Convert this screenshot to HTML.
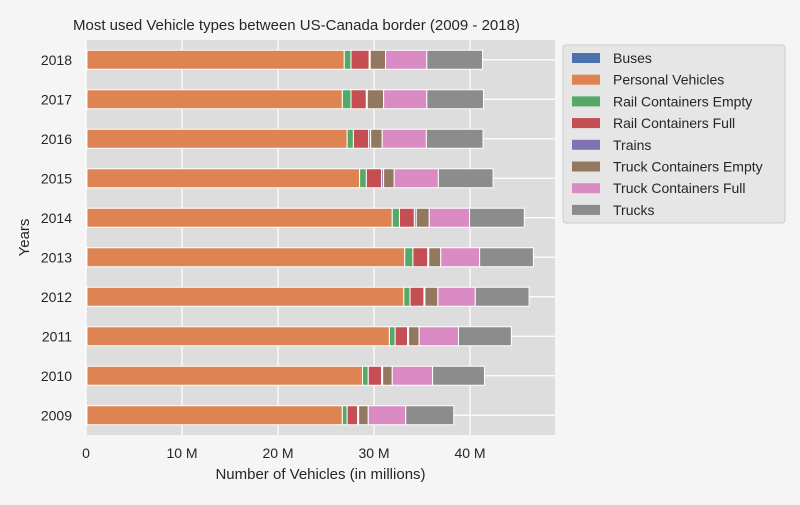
<!DOCTYPE html>
<html><head><meta charset="utf-8"><style>
body{margin:0;background:#f5f5f5;font-family:"Liberation Sans",sans-serif;}
svg text{font-family:"Liberation Sans",sans-serif;fill:#262626;}
</style></head><body>
<svg id="c" width="800" height="500">
<rect width="800" height="500" fill="#f5f5f5"/>
<text x="73" y="30" font-size="15">Most used Vehicle types between US-Canada border (2009 - 2018)</text>
<g id="plot"></g>
</svg>
<script>
const years=["2009","2010","2011","2012","2013","2014","2015","2016","2017","2018"];
const seriesNames=["Buses","Personal Vehicles","Rail Containers Empty","Rail Containers Full","Trains","Truck Containers Empty","Truck Containers Full","Trucks"];
const colors=["#4c72b0","#dd8452","#55a868","#c44e52","#8172b3","#937860","#da8bc3","#8c8c8c"];
const buses=[0.1,0.1,0.1,0.1,0.1,0.1,0.1,0.1,0.1,0.1];
const personal=[26.6,28.7,31.5,33.0,33.1,31.8,28.4,27.1,26.6,26.8];
const railEmpty=[0.5,0.6,0.6,0.65,0.85,0.75,0.7,0.65,0.9,0.7];
const railFull=[1.1,1.4,1.3,1.45,1.55,1.55,1.6,1.6,1.6,1.9];
const trains=[0.1,0.1,0.1,0.1,0.1,0.2,0.2,0.2,0.1,0.1];
const truckEmpty=[1.0,1.0,1.1,1.35,1.25,1.35,1.1,1.2,1.7,1.6];
const truckFull=[3.9,4.2,4.1,3.9,4.05,4.2,4.6,4.6,4.5,4.3];
const trucks=[5.0,5.4,5.5,5.6,5.6,5.7,5.7,5.9,5.9,5.8];
const xTicks=[0,10,20,30,40];
const xTickLabels=["0","10 M","20 M","30 M","40 M"];
const series=[buses,personal,railEmpty,railFull,trains,truckEmpty,truckFull,trucks];
const NS="http://www.w3.org/2000/svg";
const L=86,R=555,T=40,B=435,xMax=48.85;
const x=v=>L+v/xMax*(R-L);
const band=(B-T)/years.length;
const yC=i=>B-band*(i+0.5);
const g=document.getElementById('plot');
function el(t,a,p){const e=document.createElementNS(NS,t);for(const k in a)e.setAttribute(k,a[k]);(p||g).appendChild(e);return e;}
const bg=el('rect',{x:L,y:T,width:R-L,height:B-T,fill:'#dddddd'});


xTicks.forEach((t,i)=>{
 const l=el('line',{x1:x(t),x2:x(t),y1:T,y2:B,stroke:'#fff','stroke-width':1.2});
 
 
 const tx=el('text',{x:x(t),y:B+23,'font-size':14,'text-anchor':'middle'});
 tx.textContent=xTickLabels[i];
 
 
});
years.forEach((yr,i)=>{
 const l=el('line',{x1:L,x2:R,y1:yC(i),y2:yC(i),stroke:'#fff','stroke-width':1.2});
 
 
 const tx=el('text',{x:L-14,y:yC(i)+5,'font-size':14,'text-anchor':'end'});
 tx.textContent=yr;
 
 
});
years.forEach((yr,i)=>{
 let acc=0;
 series.forEach((s,j)=>{
  const r=el('rect',{x:x(acc),y:yC(i)-9.5,width:x(acc+s[i])-x(acc),height:19,fill:colors[j],stroke:'#fff','stroke-width':1});
  
  
  acc+=s[i];
 });
});
const xt=el('text',{x:(L+R)/2,y:479,'font-size':15,'text-anchor':'middle'});
xt.textContent="Number of Vehicles (in millions)";


const yt=el('text',{x:0,y:0,'font-size':15,'text-anchor':'middle',transform:`translate(29,${(T+B)/2}) rotate(-90)`});
yt.textContent="Years";


const lb=el('rect',{x:563,y:45,width:222,height:178,rx:3,fill:'#e6e6e6',stroke:'#cccccc'});


seriesNames.forEach((n,j)=>{
 const yy=58+j*21.7;
 const sw=el('rect',{x:572,y:yy-5,width:28,height:10,fill:colors[j]});
 
 
 const tx=el('text',{x:613,y:yy+5,'font-size':14});
 tx.textContent=n;
 
 
});
</script>
</body></html>
